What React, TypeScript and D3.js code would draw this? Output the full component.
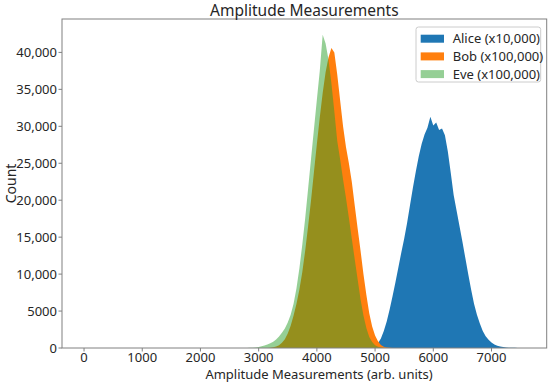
import React from 'react';
import * as d3 from 'd3';

const width = 550;
const height = 383;
const margin = { top: 19, right: 3.3, bottom: 35, left: 62 };
const innerW = width - margin.left - margin.right;
const innerH = height - margin.top - margin.bottom;

// histogram counts, 50-unit bins, first bin centred at the *Start value
const binWidth = 50;

const aliceStart = 4800;
const aliceCounts = [
  10, 30, 80, 170, 330, 650, 1300, 2300, 3600, 5200, 7000, 8900, 10900, 12900,
  14800, 16900, 19300, 21700, 23900, 25900, 27600, 28900, 29800, 31300, 30100,
  30500, 29500, 29700, 28800, 26600, 23700, 20700, 18600, 16500, 14400, 12200,
  10000, 7900, 6000, 4500, 3300, 2300, 1600, 1100, 750, 480, 300, 190, 120, 80,
  50, 30, 20, 12, 6, 3,
];

const bobStart = 3200;
const bobCounts = [
  50, 100, 200, 380, 700, 1200, 1950, 3000, 4400, 6000, 7900, 10300, 13200,
  16500, 20000, 23800, 27600, 31200, 34500, 37300, 39300, 40600, 40000, 37000,
  33500, 30000, 27200, 25000, 22500, 19300, 16200, 13200, 10000, 7200, 4700,
  2900, 1700, 900, 420, 180, 70, 25,
];

const eveStart = 2850;
const eveCounts = [
  20, 40, 80, 150, 250, 350, 480, 650, 850, 1150, 1550, 2050, 2650, 3450, 4500,
  6000, 8100, 10800, 14000, 17600, 21600, 25600, 29600, 33600, 37500, 42400,
  41200, 39000, 35800, 32000, 28000, 25500, 22800, 20300, 17600, 14800, 12000,
  9300, 6600, 4400, 2700, 1500, 800, 380, 160, 60,
];

const seriesNames = ['Alice (x10,000)', 'Bob (x100,000)', 'Eve (x100,000)'];
const seriesColors = ['#1f77b4', '#ff7f0e', '#2ca02c'];
const seriesOpacity = [1, 1, 0.5];

const xTicks = [0, 1000, 2000, 3000, 4000, 5000, 6000, 7000];
const yTicks = [0, 5000, 10000, 15000, 20000, 25000, 30000, 35000, 40000];

// bin centres with a zero at each end so the outline closes on the baseline
const toPoints = (start: number, counts: number[]): [number, number][] => [
  [start - binWidth, 0],
  ...counts.map((c, i) => [start + i * binWidth, c] as [number, number]),
  [start + counts.length * binWidth, 0],
];

const series = [
  toPoints(aliceStart, aliceCounts),
  toPoints(bobStart, bobCounts),
  toPoints(eveStart, eveCounts),
];

const xMin = 0;
const xMax = 7570;
const xPad = (xMax - xMin) * 0.05;
const yMax = d3.max([...aliceCounts, ...bobCounts, ...eveCounts]) as number;

const x = d3.scaleLinear().domain([xMin - xPad, xMax + xPad]).range([0, innerW]);
const y = d3.scaleLinear().domain([0, yMax * 1.05]).range([innerH, 0]);

const area = d3
  .area<[number, number]>()
  .x(d => x(d[0]))
  .y0(y(0))
  .y1(d => y(d[1]));

const fmtY = (v: number) => (v >= 10000 ? d3.format(',')(v) : String(v));

const font = '"Noto Sans", "Open Sans", sans-serif';
const textColor = '#262626';
const axisColor = '#808080';

const App = () => {
  return (
    <svg
      width={width}
      height={height}
      style={{ position: 'absolute', left: 0, top: 0, background: '#fff' }}
      fontFamily={font}
    >
      <g transform={`translate(${margin.left},${margin.top})`}>
        {series.map((pts, i) => (
          <path key={i} d={area(pts) as string} fill={seriesColors[i]} fillOpacity={seriesOpacity[i]} />
        ))}

        {/* frame */}
        <rect x={0} y={0} width={innerW} height={innerH} fill="none" stroke={axisColor} strokeWidth={1} />

        {/* x axis */}
        {xTicks.map(t => (
          <g key={t} transform={`translate(${x(t)},${innerH})`}>
            <line y2={3.5} stroke={axisColor} />
            <text y={13.5} textAnchor="middle" fontSize={13} fill={textColor}>
              {t}
            </text>
          </g>
        ))}

        {/* y axis */}
        {yTicks.map(t => (
          <g key={t} transform={`translate(0,${y(t)})`}>
            <line x2={-3.5} stroke={axisColor} />
            <text x={-5} dy="0.35em" textAnchor="end" fontSize={13} fill={textColor}>
              {fmtY(t)}
            </text>
          </g>
        ))}

        {/* legend */}
        <g transform={`translate(${innerW - 130.7},8)`}>
          <rect x={0} y={0} width={124.7} height={55} rx={2.5} fill="#fff" fillOpacity={0.8} stroke="#cccccc" />
          {seriesNames.map((name, i) => (
            <g key={name} transform={`translate(4.7,${7.7 + i * 17.7})`}>
              <rect width={23.3} height={8} fill={seriesColors[i]} fillOpacity={seriesOpacity[i]} />
              <text x={32} y={4} dy="0.35em" fontSize={13} fill={textColor}>
                {name}
              </text>
            </g>
          ))}
        </g>
      </g>

      <text x={margin.left + innerW / 2} y={15.5} textAnchor="middle" fontSize={15.5} fill={textColor}>
        Amplitude Measurements
      </text>
      <text x={319} y={378.5} textAnchor="middle" fontSize={13} fill={textColor}>
        Amplitude Measurements (arb. units)
      </text>
      <text
        transform={`translate(16,${margin.top + innerH / 2}) rotate(-90)`}
        textAnchor="middle"
        fontSize={14}
        fill={textColor}
      >
        Count
      </text>
    </svg>
  );
};

export default App;
